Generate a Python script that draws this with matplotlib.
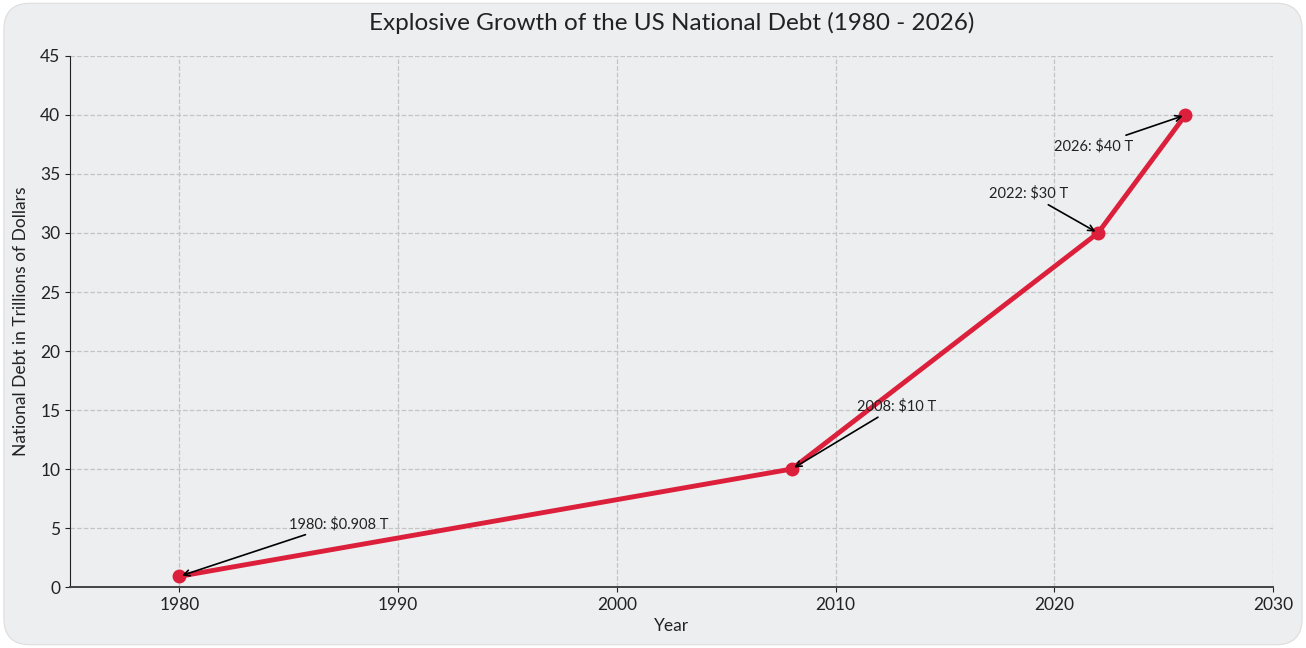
import matplotlib
matplotlib.use("Agg")
import matplotlib.pyplot as plt
from matplotlib.patches import FancyBboxPatch

years = [1980, 2008, 2022, 2026]
debt = [0.908, 10, 30, 40]
labels = ["1980: $0.908 T", "2008: $10 T", "2022: $30 T", "2026: $40 T"]
label_pos = [(1985, 5), (2011, 15), (2017, 33), (2020, 37)]

plt.rcParams['font.family'] = ['Lato', 'DejaVu Sans']

bg = '#edeef0'
fig = plt.figure(figsize=(13.06, 6.48), dpi=100)
fig.patch.set_facecolor('white')
# rounded card behind everything
card = FancyBboxPatch((0.003, 0.005), 0.994, 0.99, boxstyle="round,pad=0,rounding_size=0.02",
                      transform=fig.transFigure, facecolor=bg, edgecolor='#dddddd', linewidth=0.8,
                      mutation_aspect=1306 / 648, zorder=-10)
fig.patches.append(card)

ax = fig.add_axes([0.0536, 0.0941, 0.9211, 0.8195])
ax.set_facecolor(bg)
ax.plot(years, debt, color='#dc1f3b', linewidth=3.5, marker='o', markersize=9, zorder=3)

for x, y, txt, pos in zip(years, debt, labels, label_pos):
    ax.annotate(txt, xy=(x, y), xytext=pos, fontsize=10.5, color='#222222',
                arrowprops=dict(arrowstyle='->', color='black', lw=1.2))

ax.set_xlim(1975, 2030)
ax.set_ylim(0, 45)
ax.set_xticks([1980, 1990, 2000, 2010, 2020, 2030])
ax.set_yticks(range(0, 46, 5))
ax.grid(True, linestyle='--', color='#c4c4c4', linewidth=0.9)
ax.spines['top'].set_visible(False)
ax.spines['right'].set_visible(False)
ax.spines['left'].set_color('#222222')
ax.spines['bottom'].set_color('#444444')
ax.spines['bottom'].set_linewidth(1.4)
ax.tick_params(labelsize=12.5, colors='#222222')
ax.set_xlabel('Year', fontsize=12.5, color='#222222')
ax.set_ylabel('National Debt in Trillions of Dollars', fontsize=12.5, color='#222222', labelpad=8)
ax.set_title('Explosive Growth of the US National Debt (1980 - 2026)', fontsize=17.5, color='#222222', pad=19)

fig.savefig('out.png', dpi=100, facecolor=fig.get_facecolor())
